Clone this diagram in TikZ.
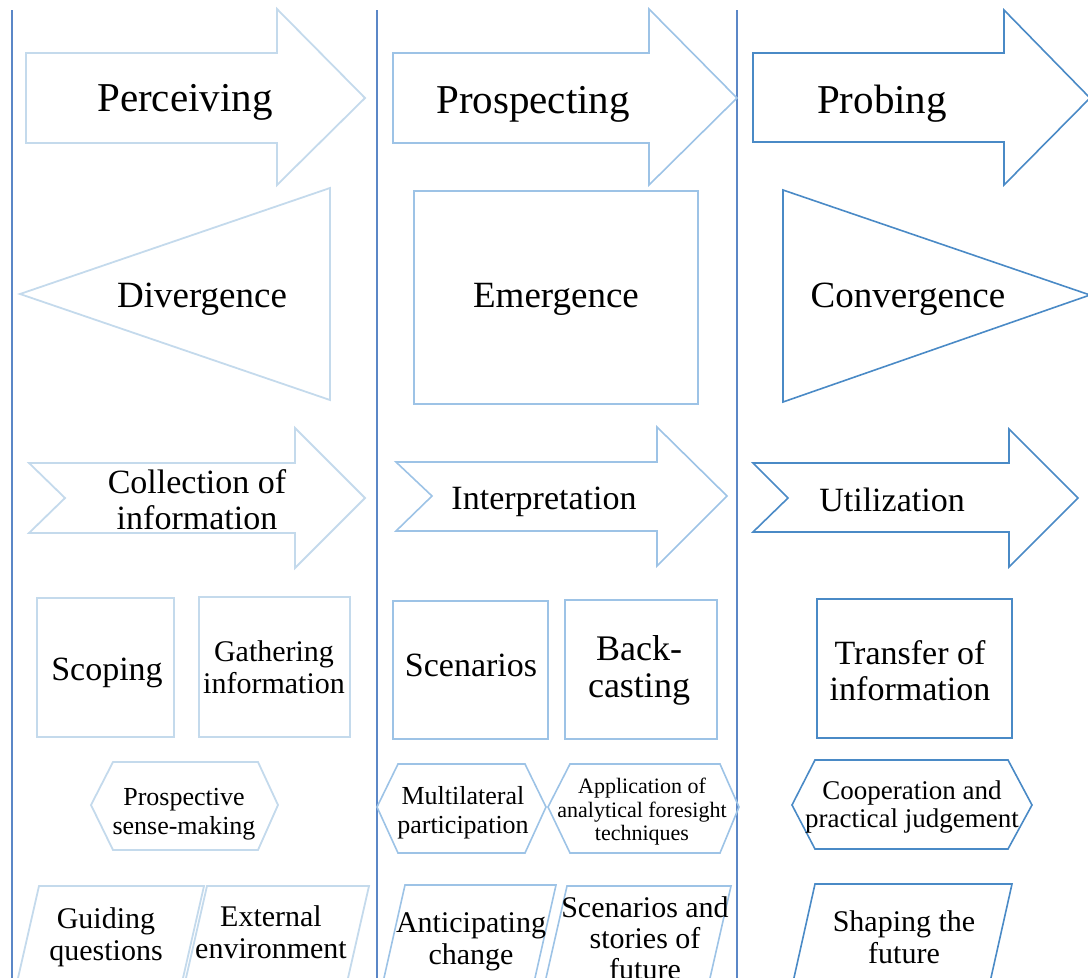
\documentclass[tikz,border=0pt]{standalone}
\usepackage{fontspec}
\setmainfont{Liberation Serif}
\begin{document}
\begin{tikzpicture}[x=1pt,y=-1pt,
  colA/.style={draw=blueA,line width=1.8pt,line join=miter},
  colB/.style={draw=blueB,line width=1.6pt,line join=miter},
  colC/.style={draw=blueC,line width=1.6pt,line join=miter},
  divider/.style={draw=blueD,line width=1.4pt},
  lbl/.style={align=center,inner sep=0pt,text=black},
  fs/.style 2 args={font=\fontsize{#1}{#2}\selectfont}]
\definecolor{blueA}{HTML}{C4DAEC}
\definecolor{blueB}{HTML}{9DC3E6}
\definecolor{blueC}{HTML}{4A8AC6}
\definecolor{blueD}{HTML}{5B87C7}
\useasboundingbox (0,0) rectangle (1088,978);
\clip (0,0) rectangle (1088,978);

% column dividers
\draw[divider] (12,10) -- (12,980);
\draw[divider] (377,10) -- (377,980);
\draw[divider] (737,10) -- (737,980);

% ---- row 1: phase arrows
\draw[colA] (26,53) -- (277,53) -- (277,9) -- (365,98) -- (277,185) -- (277,143) -- (26,143) -- cycle;
\draw[colB] (393,53) -- (649,53) -- (649,9) -- (737,98) -- (649,185) -- (649,143) -- (393,143) -- cycle;
\draw[colC] (753,53) -- (1004,53) -- (1004,10) -- (1090,98) -- (1004,185) -- (1004,142) -- (753,142) -- cycle;
\node[lbl,fs={41}{44}] (perc) at (185,102) {Perceiving};
\node[lbl,fs={41}{44}] (prosp) at (533,104) {Prospecting};
\node[lbl,fs={41}{44}] (prob) at (882,104) {Probing};

% ---- row 2: modes
\draw[colA] (20,294) -- (330,188) -- (330,400) -- cycle;
\draw[colB] (414,191) rectangle (698,404);
\draw[colC] (783,190) -- (1090,295) -- (783,402) -- cycle;
\node[lbl,fs={37}{40}] (div) at (202,299) {Divergence};
\node[lbl,fs={37}{40}] (emer) at (556,299) {Emergence};
\node[lbl,fs={37}{40}] (conv) at (908,299) {Convergence};

% ---- row 3: notched arrows
\draw[colA] (29,463) -- (295,463) -- (295,428) -- (365,498) -- (295,568) -- (295,533) -- (29,533) -- (65,498) -- cycle;
\draw[colB] (396,462) -- (657,462) -- (657,427) -- (727,496) -- (657,566) -- (657,531) -- (396,531) -- (432,496) -- cycle;
\draw[colC] (753,463) -- (1009,463) -- (1009,429) -- (1078,498) -- (1009,567) -- (1009,532) -- (753,532) -- (788,498) -- cycle;
\node[lbl,fs={34}{36}] (coll) at (197,500) {Collection of\\information};
\node[lbl,fs={34}{36}] (interp) at (544,502) {Interpretation};
\node[lbl,fs={34}{36}] (util) at (892,500) {Utilization};

% ---- row 4: activity boxes
\draw[colA] (37,598) rectangle (174,737);
\draw[colA] (199,597) rectangle (350,737);
\draw[colB] (393,601) rectangle (548,739);
\draw[colB] (565,600) rectangle (717,739);
\draw[colC] (817,599) rectangle (1012,738);
\node[lbl,fs={34}{36}] (scop) at (107,673) {Scoping};
\node[lbl,fs={30}{32}] (gath) at (274,667) {Gathering\\information};
\node[lbl,fs={34}{36}] (scen) at (471,665) {Scenarios};
\node[lbl,fs={36}{37}] (back) at (639,670) {Back-\\casting};
\node[lbl,fs={34}{36}] (trans) at (910,671) {Transfer of\\information};

% ---- row 5: hexagons
\draw[colA] (91,805) -- (113,762) -- (258,762) -- (278,805) -- (258,850) -- (113,850) -- cycle;
\draw[colB] (377,807) -- (398,764) -- (525,764) -- (546,807) -- (525,853) -- (398,853) -- cycle;
\draw[colB] (548,807) -- (570,764) -- (720,764) -- (739,807) -- (720,853) -- (570,853) -- cycle;
\draw[colC] (792,805) -- (815,760) -- (1008,760) -- (1032,805) -- (1008,849) -- (815,849) -- cycle;
\node[lbl,fs={26}{29}] (sense) at (184,814) {Prospective\\sense-making};
\node[lbl,fs={26}{29}] (multi) at (463,813) {Multilateral\\participation};
\node[lbl,fs={22}{23.5}] (appl) at (642,812) {Application of\\analytical foresight\\techniques};
\node[lbl,fs={27}{28}] (coop) at (912,807) {Cooperation and\\practical judgement};

% ---- row 6: outcome parallelograms (running past the lower edge)
\draw[colA] (39,886) -- (204,886) -- (178,1000) -- (13,1000) -- cycle;
\draw[colA] (207,886) -- (369,886) -- (343,1000) -- (181,1000) -- cycle;
\draw[colB] (405,885) -- (556,885) -- (530,1000) -- (379,1000) -- cycle;
\draw[colB] (567,886) -- (731,886) -- (705,1000) -- (541,1000) -- cycle;
\draw[colC] (815,884) -- (1012,884) -- (986,1000) -- (789,1000) -- cycle;
\node[lbl,fs={30}{32}] (guid) at (106,937) {Guiding\\questions};
\node[lbl,fs={30}{32}] (ext) at (271,932) {External\\environment};
\node[lbl,fs={30}{32}] (antic) at (471,942) {Anticipating\\change};
\node[lbl,fs={30}{31}] (stor) at (645,938) {Scenarios and\\stories of\\future};
\node[lbl,fs={30}{32}] (shap) at (904,937) {Shaping the\\future};
\end{tikzpicture}
\end{document}
